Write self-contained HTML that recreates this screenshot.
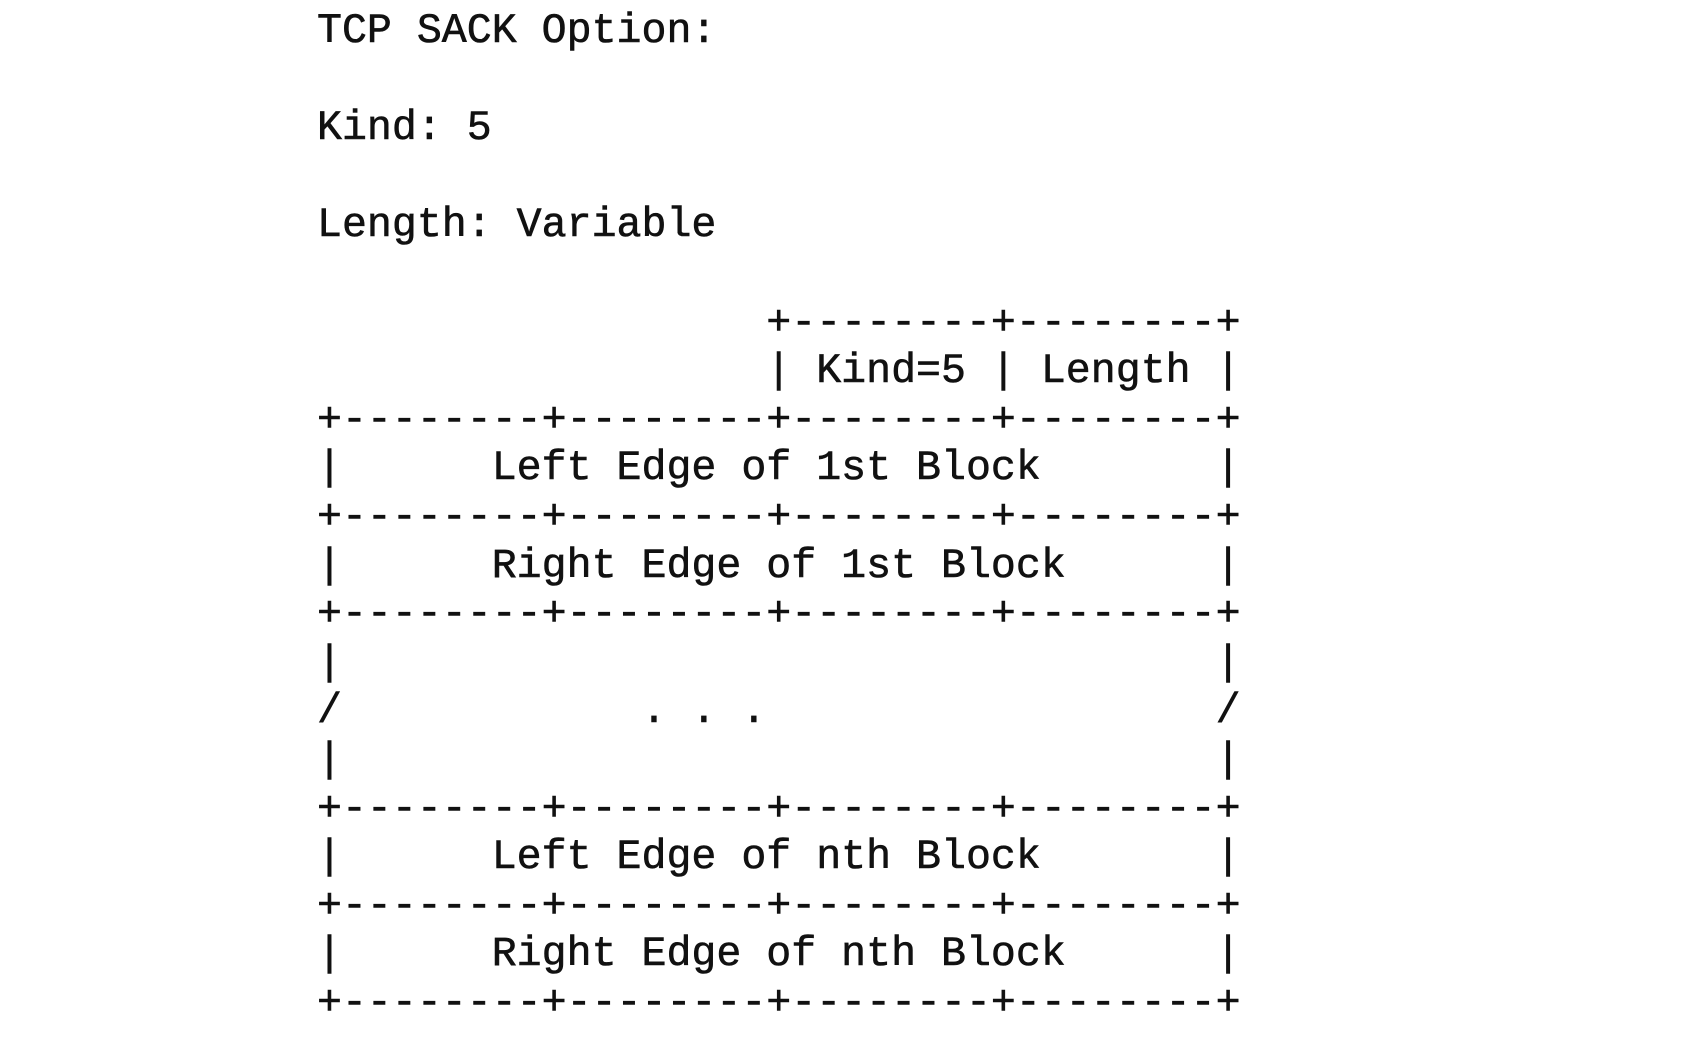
<!DOCTYPE html>
<html><head><meta charset="utf-8"><style>
html,body{margin:0;padding:0;background:#fff;width:1686px;height:1044px;overflow:hidden}
pre{position:absolute;left:317px;top:8px;margin:0;font-family:"Liberation Mono",monospace;font-size:41.6px;line-height:48.6px;color:#111;-webkit-text-stroke:0.6px #111}
</style></head><body><pre>TCP SACK Option:

Kind: 5

Length: Variable

                  +--------+--------+
                  | Kind=5 | Length |
+--------+--------+--------+--------+
|      Left Edge of 1st Block       |
+--------+--------+--------+--------+
|      Right Edge of 1st Block      |
+--------+--------+--------+--------+
|                                   |
/            . . .                  /
|                                   |
+--------+--------+--------+--------+
|      Left Edge of nth Block       |
+--------+--------+--------+--------+
|      Right Edge of nth Block      |
+--------+--------+--------+--------+</pre></body></html>
